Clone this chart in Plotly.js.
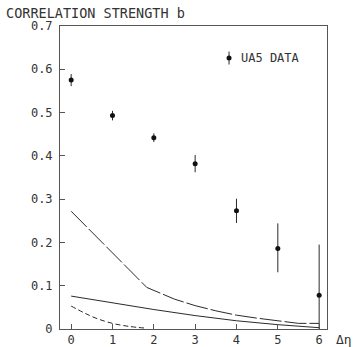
<!DOCTYPE html>
<html><head><meta charset="utf-8">
<script src="https://cdn.plot.ly/plotly-3.0.1.min.js"></script>
<style>body{margin:0;background:#fff}</style>
</head><body><div id="c" style="width:362px;height:347px"></div>
<script>
// UA5 data
const dataX = [0, 1, 2, 3, 4, 5, 6];
const dataY = [0.575, 0.493, 0.442, 0.382, 0.273, 0.186, 0.078];
const errPlus = [0.014, 0.011, 0.010, 0.020, 0.028, 0.058, 0.117];
const errMinus = [0.014, 0.011, 0.010, 0.020, 0.028, 0.055, 0.078];
// model curves
const dashDotX = [0, 1.83, 2.5, 3, 3.5, 4, 4.5, 5, 5.5, 6];
const dashDotY = [0.272, 0.096, 0.069, 0.054, 0.042, 0.032, 0.025, 0.019, 0.013, 0.013];
const solidX = [0, 1, 2, 3, 4, 5, 6];
const solidY = [0.076, 0.060, 0.045, 0.031, 0.019, 0.010, 0.003];
const dashX = [0, 0.3, 0.6, 1, 1.4, 1.8];
const dashY = [0.053, 0.038, 0.025, 0.013, 0.006, 0.002];
// legend
const legendX = [3.82];
const legendY = [0.626];
const legendErr = [0.015];
const xTicks = [0, 1, 2, 3, 4, 5, 6];
const yTicks = [0, 0.1, 0.2, 0.3, 0.4, 0.5, 0.6, 0.7];
const yTickText = ["0", "0.1", "0.2", "0.3", "0.4", "0.5", "0.6", "0.7"];

const ink = '#2a2a2a';
const font = {family: 'DejaVu Sans Mono, monospace', size: 12, color: '#333'};

const traces = [
  {x: dashDotX, y: dashDotY, mode: 'lines', line: {color: ink, width: 1, dash: '22px,3px'}, hoverinfo: 'none'},
  {x: solidX, y: solidY, mode: 'lines', line: {color: ink, width: 1}, hoverinfo: 'none'},
  {x: dashX, y: dashY, mode: 'lines', line: {color: ink, width: 1, dash: '5px,3px', shape: 'spline'}, hoverinfo: 'none'},
  {x: dataX, y: dataY, mode: 'markers', marker: {color: '#111', size: 5},
   error_y: {type: 'data', symmetric: false, array: errPlus, arrayminus: errMinus, color: ink, thickness: 1, width: 0}},
  {x: legendX, y: legendY, mode: 'markers', marker: {color: '#111', size: 5},
   error_y: {type: 'data', array: legendErr, color: ink, thickness: 1, width: 0}}
];

const layout = {
  width: 362, height: 347,
  margin: {l: 60, r: 35, t: 26, b: 18},
  paper_bgcolor: '#fff', plot_bgcolor: '#fff',
  showlegend: false,
  font: font,
  title: {text: 'CORRELATION STRENGTH b', font: {family: 'DejaVu Sans Mono, monospace', size: 13.5, color: '#333'},
          xref: 'container', yref: 'container', x: 6/362, xanchor: 'left', y: 1 - 13/347, yanchor: 'middle'},
  xaxis: {range: [-0.27, 6.19], tickvals: xTicks, ticks: 'inside', ticklen: 5, tickcolor: '#555',
          showline: true, mirror: true, linecolor: '#555', linewidth: 1, showgrid: false, zeroline: false,
          automargin: false, tickfont: font},
  yaxis: {range: [0, 0.7], tickvals: yTicks, ticktext: yTickText, ticks: 'inside', ticklen: 5, tickcolor: '#555',
          showline: true, mirror: true, linecolor: '#555', linewidth: 1, showgrid: false, zeroline: false,
          automargin: false, tickfont: font, ticklabelstandoff: 4},
  annotations: [
    {xref: 'x', yref: 'y', x: 4.05, y: 0.626, text: 'UA5 DATA', showarrow: false, xanchor: 'left', yanchor: 'middle', font: font},
    {xref: 'paper', yref: 'paper', x: 1.025, y: 0, yshift: -10, text: 'Δη', showarrow: false, xanchor: 'left', yanchor: 'middle',
     font: {family: 'DejaVu Sans Mono, monospace', size: 13, color: '#333'}}
  ]
};
Plotly.newPlot('c', traces, layout, {staticPlot: true});
</script></body></html>
